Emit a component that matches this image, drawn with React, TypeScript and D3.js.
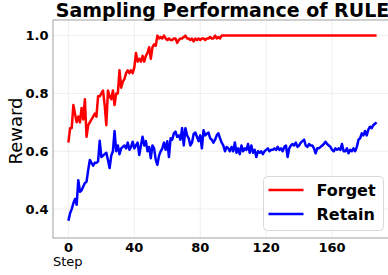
import React, { useEffect, useRef } from "react";
import * as d3 from "d3";

const forget = [
  0.63, 0.68, 0.68, 0.76, 0.73, 0.7, 0.72, 0.7, 0.75, 0.71,
  0.78, 0.65, 0.69, 0.7, 0.71, 0.72, 0.73, 0.72, 0.79, 0.79,
  0.8, 0.81, 0.76, 0.69, 0.81, 0.79, 0.78, 0.81, 0.76, 0.8,
  0.8, 0.88, 0.82, 0.84, 0.85, 0.87, 0.88, 0.87, 0.88, 0.87,
  0.89, 0.94, 0.91, 0.92, 0.91, 0.93, 0.91, 0.93, 0.94, 0.96,
  0.92, 0.96, 0.97, 0.965, 1.0, 0.99, 0.995, 0.99, 1.0, 0.99,
  0.985, 0.99, 0.985, 0.985, 0.99, 0.99, 0.975, 0.985, 0.99, 0.99,
  0.995, 1.0, 0.99, 0.99, 0.985, 0.99, 0.98, 0.99, 0.985, 0.99,
  0.985, 0.99, 0.99, 0.985, 0.99, 0.99, 0.995, 0.99, 0.99, 1.0,
  0.99, 0.995, 0.99, 1, 1, 1, 1, 1, 1, 1,
  1, 1, 1, 1, 1, 1, 1, 1, 1, 1,
  1, 1, 1, 1, 1, 1, 1, 1, 1, 1,
  1, 1, 1, 1, 1, 1, 1, 1, 1, 1,
  1, 1, 1, 1, 1, 1, 1, 1, 1, 1,
  1, 1, 1, 1, 1, 1, 1, 1, 1, 1,
  1, 1, 1, 1, 1, 1, 1, 1, 1, 1,
  1, 1, 1, 1, 1, 1, 1, 1, 1, 1,
  1, 1, 1, 1, 1, 1, 1, 1, 1, 1,
  1, 1, 1, 1, 1, 1, 1, 1,
];

const retain = [
  0.36, 0.385, 0.4, 0.42, 0.435, 0.415, 0.5, 0.46, 0.465, 0.478,
  0.49, 0.495, 0.535, 0.57, 0.56, 0.55, 0.56, 0.56, 0.565, 0.636,
  0.58, 0.585, 0.59, 0.595, 0.57, 0.542, 0.585, 0.6, 0.67, 0.6,
  0.62, 0.59, 0.61, 0.615, 0.62, 0.61, 0.63, 0.605, 0.615, 0.633,
  0.61, 0.62, 0.63, 0.587, 0.62, 0.65, 0.62, 0.635, 0.6, 0.615,
  0.576, 0.62, 0.61, 0.57, 0.553, 0.585, 0.6, 0.61, 0.63, 0.605,
  0.635, 0.58, 0.645, 0.64, 0.662, 0.668, 0.65, 0.655, 0.64, 0.68,
  0.62, 0.68, 0.655, 0.645, 0.62, 0.63, 0.66, 0.665, 0.65, 0.635,
  0.655, 0.61, 0.673, 0.655, 0.66, 0.665, 0.645, 0.64, 0.63, 0.64,
  0.655, 0.662, 0.645, 0.63, 0.62, 0.6, 0.615, 0.61, 0.6, 0.615,
  0.6, 0.63, 0.595, 0.61, 0.59, 0.62, 0.6, 0.61, 0.605, 0.625,
  0.595, 0.62, 0.595, 0.605, 0.58, 0.6, 0.595, 0.6, 0.59, 0.6,
  0.605, 0.61, 0.6, 0.605, 0.605, 0.61, 0.605, 0.615, 0.605, 0.61,
  0.6, 0.615, 0.62, 0.58, 0.61, 0.62, 0.625, 0.62, 0.63, 0.615,
  0.62, 0.63, 0.635, 0.64, 0.62, 0.615, 0.625, 0.62, 0.62, 0.61,
  0.593, 0.61, 0.61, 0.615, 0.62, 0.625, 0.633, 0.625, 0.62, 0.615,
  0.605, 0.6, 0.61, 0.605, 0.61, 0.605, 0.625, 0.6, 0.6, 0.61,
  0.593, 0.605, 0.6, 0.61, 0.6, 0.615, 0.64, 0.645, 0.662, 0.655,
  0.67, 0.655, 0.675, 0.685, 0.68, 0.69, 0.695, 0.7,
];

const series = [
  { name: "Forget", color: "#ff0000", values: forget },
  { name: "Retain", color: "#0000ff", values: retain },
];

const xTicks = [0, 40, 80, 120, 160];
const yTicks = [0.4, 0.6, 0.8, 1.0];

const font = "'DejaVu Sans', sans-serif";

const App = () => {
  const chartRef = useRef(null);

  useEffect(() => {
    const svg = d3.select(chartRef.current);
    svg.selectAll("*").remove();

    const left = 53, right = 392, top = 20, bottom = 238;

    const x = d3.scaleLinear().domain([-9.35, 196.35]).range([left, right]);
    const y = d3.scaleLinear().domain([0.3, 1.054]).range([bottom, top]);

    // grid
    const grid = svg.append("g");
    grid
      .selectAll(".gx")
      .data(xTicks)
      .enter()
      .append("line")
      .attr("x1", (d) => x(d))
      .attr("x2", (d) => x(d))
      .attr("y1", top)
      .attr("y2", bottom)
      .attr("stroke", "#ebebeb")
      .attr("stroke-width", 0.8);
    grid
      .selectAll(".gy")
      .data(yTicks)
      .enter()
      .append("line")
      .attr("x1", left)
      .attr("x2", right)
      .attr("y1", (d) => y(d))
      .attr("y2", (d) => y(d))
      .attr("stroke", "#ebebeb")
      .attr("stroke-width", 0.8);

    // lines
    const line = d3
      .line()
      .x((d, i) => x(i))
      .y((d) => y(d));

    series.forEach((s) => {
      svg
        .append("path")
        .datum(s.values)
        .attr("d", line)
        .attr("fill", "none")
        .attr("stroke", s.color)
        .attr("stroke-width", 2.5)
        .attr("stroke-linejoin", "round");
    });

    // spines
    svg
      .append("rect")
      .attr("x", left)
      .attr("y", top)
      .attr("width", right - left)
      .attr("height", bottom - top)
      .attr("fill", "none")
      .attr("stroke", "#a0a0a0")
      .attr("stroke-width", 1);

    // tick labels
    svg
      .selectAll(".xt")
      .data(xTicks)
      .enter()
      .append("text")
      .attr("x", (d) => x(d))
      .attr("y", 252)
      .attr("text-anchor", "middle")
      .style("font-family", font)
      .style("font-size", "13px")
      .style("font-weight", "bold")
      .text((d) => d);

    svg
      .selectAll(".yt")
      .data(yTicks)
      .enter()
      .append("text")
      .attr("x", 48.5)
      .attr("y", (d) => y(d) + 4.7)
      .attr("text-anchor", "end")
      .style("font-family", font)
      .style("font-size", "13px")
      .style("font-weight", "bold")
      .text((d) => d.toFixed(1));

    // axis labels
    svg
      .append("text")
      .attr("x", left)
      .attr("y", 266)
      .style("font-family", font)
      .style("font-size", "13px")
      .text("Step");

    svg
      .append("text")
      .attr("transform", `translate(22, ${(top + bottom) / 2 + 2}) rotate(-90)`)
      .attr("text-anchor", "middle")
      .style("font-family", font)
      .style("font-size", "18px")
      .text("Reward");

    // title
    svg
      .append("text")
      .attr("x", (left + right) / 2)
      .attr("y", 16.5)
      .attr("text-anchor", "middle")
      .style("font-family", font)
      .style("font-size", "19px")
      .style("font-weight", "bold")
      .text("Sampling Performance of RULE");

    // legend
    const legend = svg.append("g");
    legend
      .append("rect")
      .attr("x", 263.5)
      .attr("y", 176.5)
      .attr("width", 120)
      .attr("height", 54)
      .attr("rx", 4)
      .attr("fill", "white")
      .attr("fill-opacity", 0.8)
      .attr("stroke", "#d9d9d9")
      .attr("stroke-width", 1);

    series.forEach((s, i) => {
      const ly = 190 + i * 24;
      legend
        .append("line")
        .attr("x1", 268.5)
        .attr("x2", 303.5)
        .attr("y1", ly)
        .attr("y2", ly)
        .attr("stroke", s.color)
        .attr("stroke-width", 2.5);
      legend
        .append("text")
        .attr("x", 316.5)
        .attr("y", ly + 5.5)
        .style("font-family", font)
        .style("font-size", "16px")
        .style("font-weight", "bold")
        .text(s.name);
    });
  }, []);

  return (
    <svg
      ref={chartRef}
      width="388"
      height="275"
      style={{ position: "absolute", left: 0, top: 0, background: "white" }}
    ></svg>
  );
};

export default App;
